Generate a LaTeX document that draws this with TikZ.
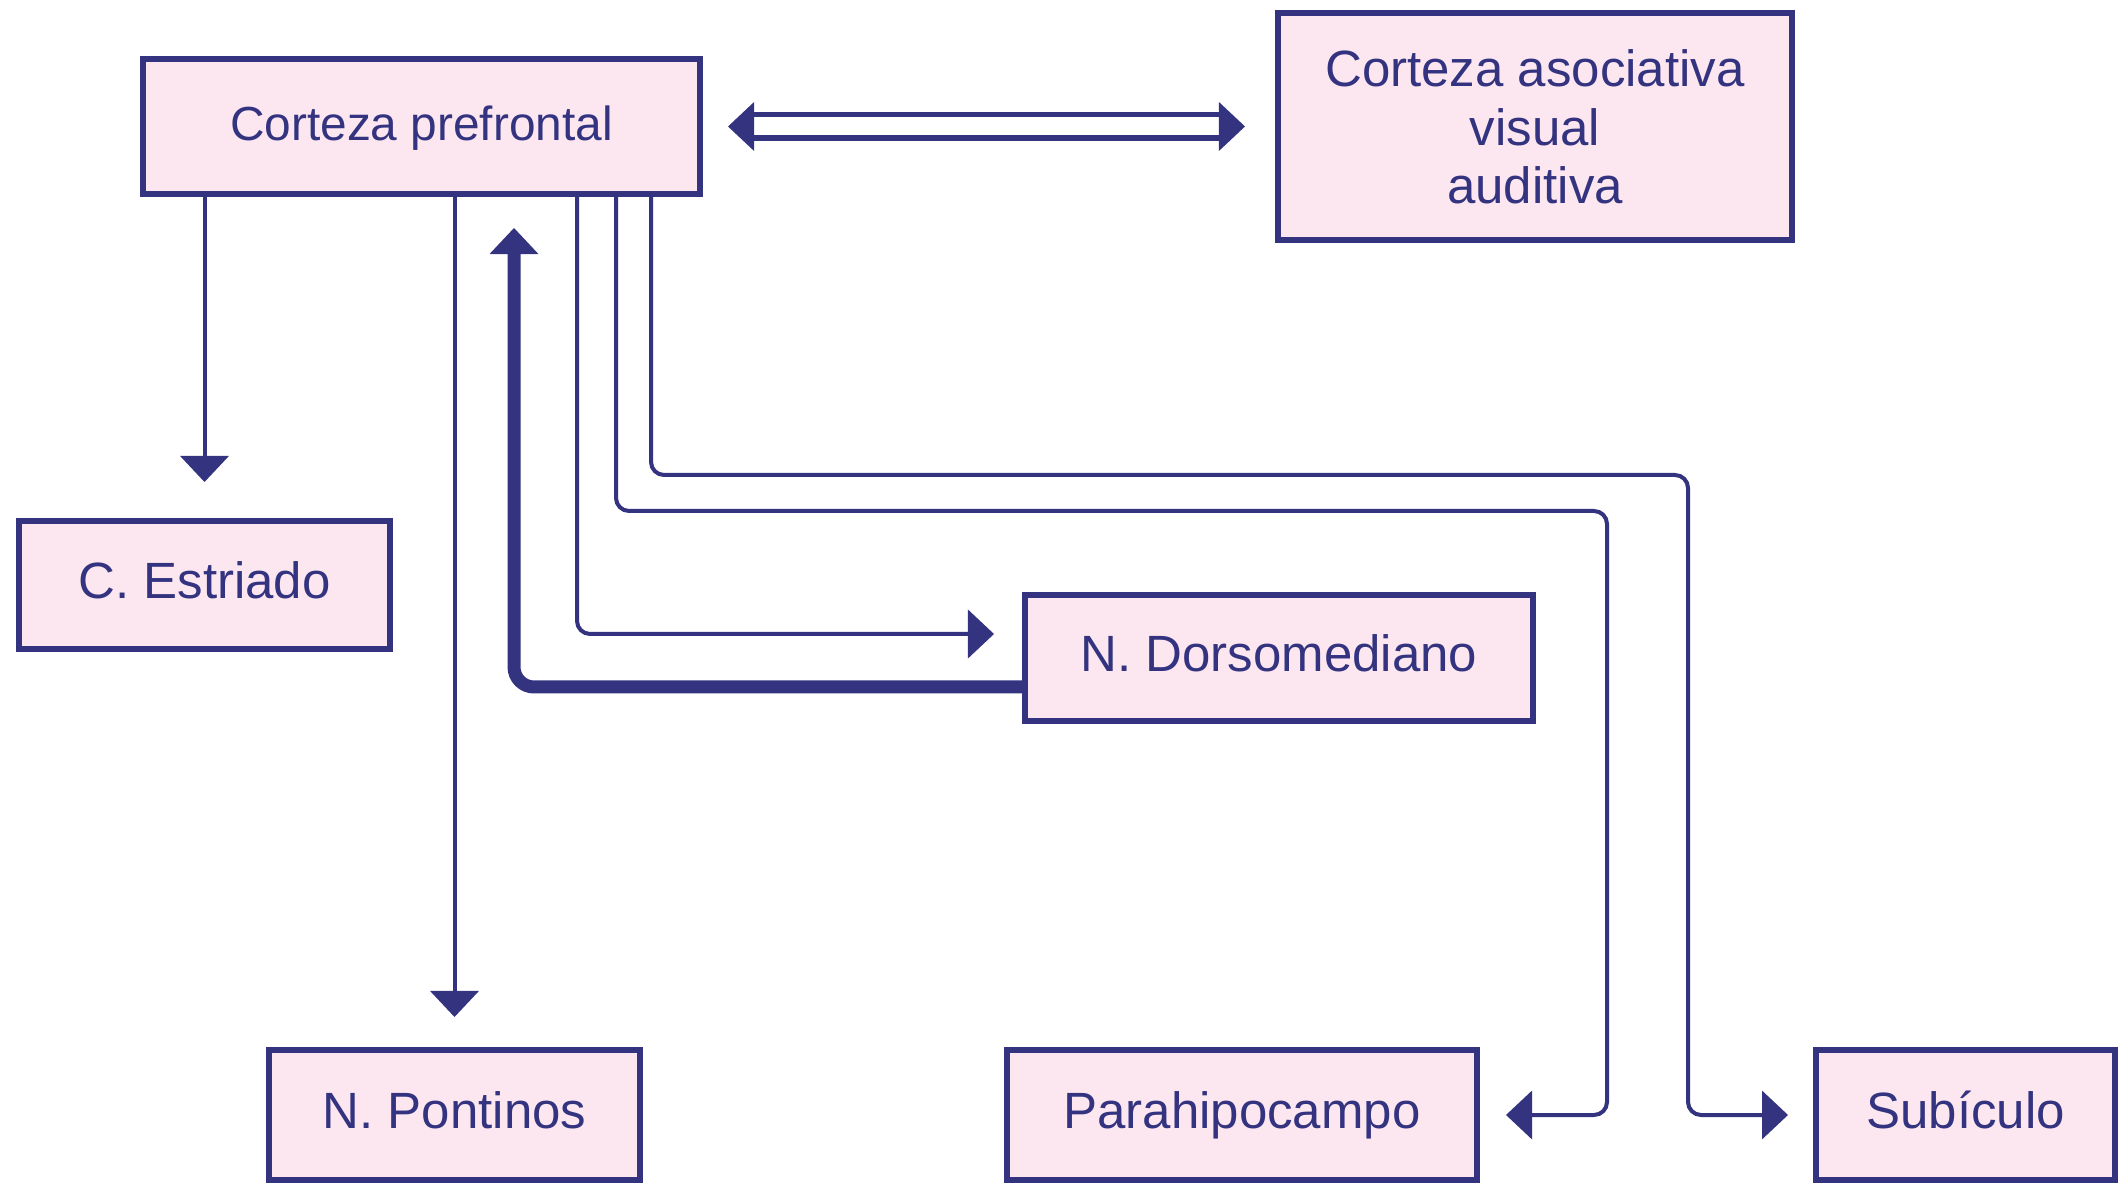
\documentclass[tikz,border=0pt]{standalone}
\usepackage{fontspec}
\setmainfont{Liberation Sans}
\usetikzlibrary{arrows.meta,calc}

\newlength{\du}
\setlength{\du}{0.01cm}

\definecolor{arealine}{RGB}{51,51,128}
\definecolor{areafill}{RGB}{252,231,240}

\tikzset{
  area/.style={draw=arealine, fill=areafill, line width=6\du, inner sep=0pt,
    text=arealine, font=\fontsize{14.5pt}{16.6pt}\selectfont},
  area1/.style={area, text height=36\du, text depth=8\du},
  tip/.style={-{Triangle[length=7.4pt,width=13.9pt,line width=0pt]}},
  tract/.style={draw=arealine, line width=4\du, tip},
  thickway/.style={draw=arealine, line width=13\du, rounded corners=20\du, tip},
  bothway/.style={draw=arealine, line width=5.5\du, double=white, double distance=18\du,
    {Triangle[length=7.4pt,width=13.9pt,line width=0pt]}-{Triangle[length=7.4pt,width=13.9pt,line width=0pt]}}
}

\begin{document}
\begin{tikzpicture}
\pgftransformyscale{-1.000000}
\useasboundingbox (0\du,0\du) rectangle (2118\du,1183\du);
% areas
\node[area1, minimum width=557\du, minimum height=135\du, font=\fontsize{13.6pt}{16pt}\selectfont] (pref) at (421.5\du,126.5\du) {Corteza prefrontal};
\node[area, align=center, minimum width=514\du, minimum height=227\du] (asoc) at (1535\du,127\du) {Corteza asociativa\\visual\\auditiva};
\node[area1, minimum width=371\du, minimum height=128\du] (estr) at (204.5\du,585\du) {C. Estriado};
\node[area1, minimum width=508\du, minimum height=126\du] (dors) at (1279\du,658\du) {N. Dorsomediano};
\node[area1, minimum width=371\du, minimum height=130\du] (pont) at (454.5\du,1115\du) {N. Pontinos};
\node[area1, minimum width=470\du, minimum height=130\du] (para) at (1242\du,1115\du) {Parahipocampo};
\node[area1, minimum width=299\du, minimum height=130\du] (subi) at (1965.5\du,1115\du) {Subículo};
\coordinate (parabend) at (1607\du,511\du);
\coordinate (subibend) at (1688\du,475\du);
% connections
\draw[bothway, shorten <=25\du, shorten >=30\du] (pref.east) -- (pref.east -| asoc.west);
\draw[tract, shorten >=36\du] (pref.south -| estr.north) -- (estr.north);
\draw[tract, shorten >=30\du] (pref.south -| pont.north) -- (pont.north);
\draw[tract, rounded corners=13\du, shorten >=28\du] ($(pref.south west)+(437\du,0)$) |- ($(dors.west)+(0,-24\du)$);
\draw[thickway, shorten >=31\du] ($(dors.west)+(0,29\du)$) -| ($(pref.south west)+(374\du,0)$);
\draw[tract, rounded corners=13\du, shorten >=26\du] ($(pref.south west)+(476\du,0)$) |- (parabend) |- (para.east);
\draw[tract, rounded corners=13\du, shorten >=25\du] ($(pref.south west)+(511\du,0)$) |- (subibend) |- (subi.west);
\end{tikzpicture}
\end{document}
